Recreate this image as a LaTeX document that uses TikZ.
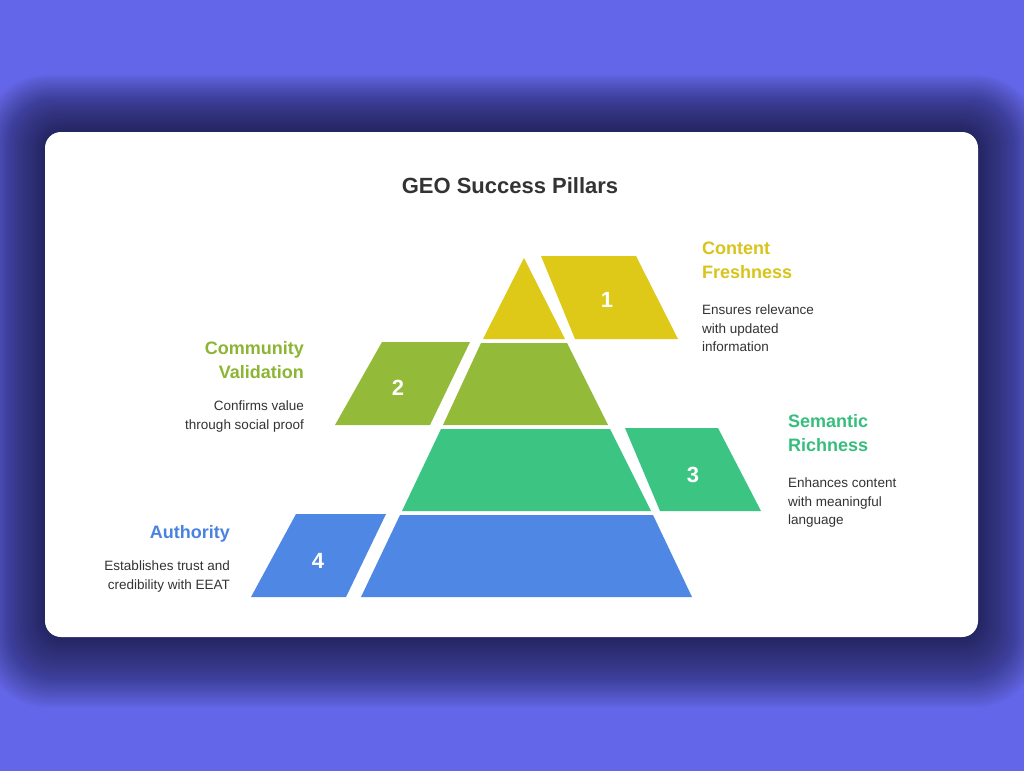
\documentclass[tikz,border=0pt]{standalone}
\usepackage{fontspec}
\setmainfont{Liberation Sans}
\definecolor{bgc}{HTML}{6366E8}
\definecolor{shd}{HTML}{1A1A40}
\definecolor{cy}{HTML}{DEC918}
\definecolor{cg}{HTML}{93BA38}
\definecolor{ct}{HTML}{3CC482}
\definecolor{cb}{HTML}{4F87E4}
\definecolor{ty}{HTML}{D8C41A}
\definecolor{tg}{HTML}{8DB534}
\definecolor{tt}{HTML}{37BE7D}
\definecolor{tb}{HTML}{4A82E0}
\definecolor{tx}{HTML}{333333}
\tikzset{
  head/.style={font=\fontsize{18}{24}\selectfont\bfseries, inner sep=0pt},
  desc/.style={font=\fontsize{13.5}{18.5}\selectfont, text=tx, inner sep=0pt},
  num/.style={font=\fontsize{22}{24}\selectfont\bfseries, text=white}
}
\begin{document}
\begin{tikzpicture}[x=1pt,y=-1pt]
\fill[bgc] (0,0) rectangle (1024,771);
\useasboundingbox (0,0) rectangle (1024,771);
\foreach \i in {0,...,44}{
  \fill[shd, opacity=0.028, rounded corners=20+\i] (45-1.4*\i,132-1.3*\i) rectangle (978+1.4*\i,637+1.6*\i);
}
\fill[white, rounded corners=16] (45,132) rectangle (978,637);
\node[font=\fontsize{22}{26}\selectfont\bfseries, text=tx] (title) at (510,186) {GEO Success Pillars};
% pyramid
\fill[cy] (524,258) -- (565,339) -- (483,339) -- cycle;
\fill[cg] (481,343) -- (567,343) -- (608,425) -- (443,425) -- cycle;
\fill[ct] (441,429) -- (610,429) -- (651,511) -- (402,511) -- cycle;
\fill[cb] (400,515) -- (653,515) -- (692,597) -- (361,597) -- cycle;
% parallelograms
\fill[cy] (541,256) -- (636,256) -- (678,339) -- (575,339) -- cycle;
\fill[cg] (382,342) -- (470,342) -- (430,425) -- (335,425) -- cycle;
\fill[ct] (625,428) -- (718,428) -- (761,511) -- (660,511) -- cycle;
\fill[cb] (296,514) -- (386,514) -- (346,597) -- (251,597) -- cycle;
\node[num] (n1) at (607,300) {1};
\node[num] (n2) at (398,388) {2};
\node[num] (n3) at (693,475) {3};
\node[num] (n4) at (318,561) {4};
% texts
\node[head, text=ty, align=left, anchor=north west] (h1) at (702,242) {Content\\Freshness};
\node[desc, align=left, anchor=north west] (d1) at (702,305) {Ensures relevance\\with updated\\information};
\node[head, text=tg, align=right, anchor=north east] (h2) at (304,341) {Community\\Validation};
\node[desc, align=right, anchor=north east] (d2) at (304,401) {Confirms value\\through social proof};
\node[head, text=tt, align=left, anchor=north west] (h3) at (788,414) {Semantic\\Richness};
\node[desc, align=left, anchor=north west] (d3) at (788,478) {Enhances content\\with meaningful\\language};
\node[head, text=tb, align=right, anchor=north east] (h4) at (230,525) {Authority};
\node[desc, align=right, anchor=north east] (d4) at (230,561) {Establishes trust and\\credibility with EEAT};
\end{tikzpicture}
\end{document}
